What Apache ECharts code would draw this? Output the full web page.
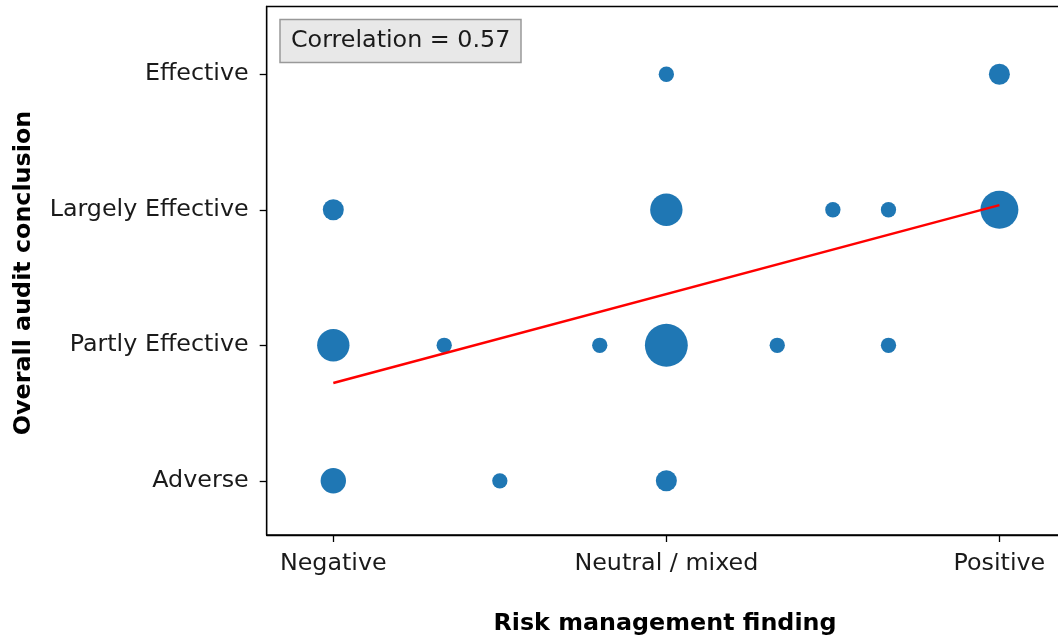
<!DOCTYPE html>
<html>
<head>
<meta charset="utf-8">
<script src="https://cdn.jsdelivr.net/npm/echarts@6/dist/echarts.min.js"></script>
<style>html,body{margin:0;padding:0;background:#fff}#c{width:1058px;height:641px}</style>
</head>
<body>
<div id="c"></div>
<script>
// Data
const xCategories = ['Negative', 'Neutral / mixed', 'Positive'];
const yCategories = ['Adverse', 'Partly Effective', 'Largely Effective', 'Effective'];
const pointX = [1, 2, 0, 1, 1.5, 1.667, 2, 0, 0.333, 0.8, 1, 1.333, 1.667, 0, 0.5, 1];
const pointY = [3, 3, 2, 2, 2, 2, 2, 1, 1, 1, 1, 1, 1, 0, 0, 0];
const pointCount = [1, 2, 2, 5, 1, 1, 7, 5, 1, 1, 9, 1, 1, 3, 1, 2];
const fitX = [0, 2];
const fitY = [0.722, 2.034];
const correlation = 0.57;

const FONT = 'DejaVu Sans';
const FS = 23.8;
const chart = echarts.init(document.getElementById('c'), null, {renderer: 'canvas'});
const scatterData = pointX.map((x, i) => [x, pointY[i], pointCount[i]]);
const fitData = fitX.map((x, i) => [x, fitY[i]]);

chart.setOption({
  animation: false,
  backgroundColor: '#fff',
  title: {
    text: 'Correlation = ' + correlation.toFixed(2),
    left: 280, top: 19.5,
    padding: [9, 11, 9, 11],
    backgroundColor: '#e8e8e8',
    borderColor: '#999',
    borderWidth: 1.5,
    textStyle: {fontFamily: FONT, fontSize: FS, fontWeight: 'normal', color: '#1a1a1a', lineHeight: 25}
  },
  grid: {
    left: 266.7, top: 6.5, width: 799.3, bottom: 106,
    containLabel: false,
    outerBoundsMode: 'none',
    show: true, borderColor: '#000', borderWidth: 1.3, backgroundColor: 'transparent'
  },
  xAxis: {
    type: 'value', min: -0.2, max: 2.2,
    splitLine: {show: false},
    axisLine: {show: true, onZero: false, lineStyle: {color: '#000', width: 1.3}},
    axisTick: {show: true, length: 7, lineStyle: {color: '#000', width: 1.3}, customValues: [0, 1, 2]},
    axisLabel: {
      customValues: [0, 1, 2],
      formatter: v => xCategories[Math.round(v)],
      fontFamily: FONT, fontSize: FS, color: '#1a1a1a', margin: 17
    }
  },
  yAxis: {
    type: 'value', min: -0.4, max: 3.5,
    splitLine: {show: false},
    axisLine: {show: true, onZero: false, lineStyle: {color: '#000', width: 1.3}},
    axisTick: {show: true, length: 7, lineStyle: {color: '#000', width: 1.3}, customValues: [0, 1, 2, 3]},
    axisLabel: {
      customValues: [0, 1, 2, 3],
      formatter: v => yCategories[Math.round(v)],
      fontFamily: FONT, fontSize: FS, color: '#1a1a1a', margin: 18,
      verticalAlign: 'middle',
      padding: [6, 0, 0, 0]
    }
  },
  graphic: [
    {type: 'text', x: 665, y: 624, style: {text: 'Risk management finding', font: 'bold 23.8px "DejaVu Sans"', fill: '#000', textAlign: 'center', textVerticalAlign: 'middle'}},
    {type: 'text', x: 24, y: 273, rotation: Math.PI / 2, style: {text: 'Overall audit conclusion', font: 'bold 23.8px "DejaVu Sans"', fill: '#000', textAlign: 'center', textVerticalAlign: 'middle'}}
  ],
  series: [
    {
      type: 'scatter',
      data: scatterData,
      symbolSize: d => 1.5 + 13.8 * Math.sqrt(d[2]),
      itemStyle: {color: '#1f77b4', opacity: 1},
      z: 2
    },
    {
      type: 'line',
      data: fitData,
      showSymbol: false,
      symbol: 'none',
      lineStyle: {color: '#ff0000', width: 2.5},
      z: 3
    }
  ]
});
</script>
</body>
</html>
